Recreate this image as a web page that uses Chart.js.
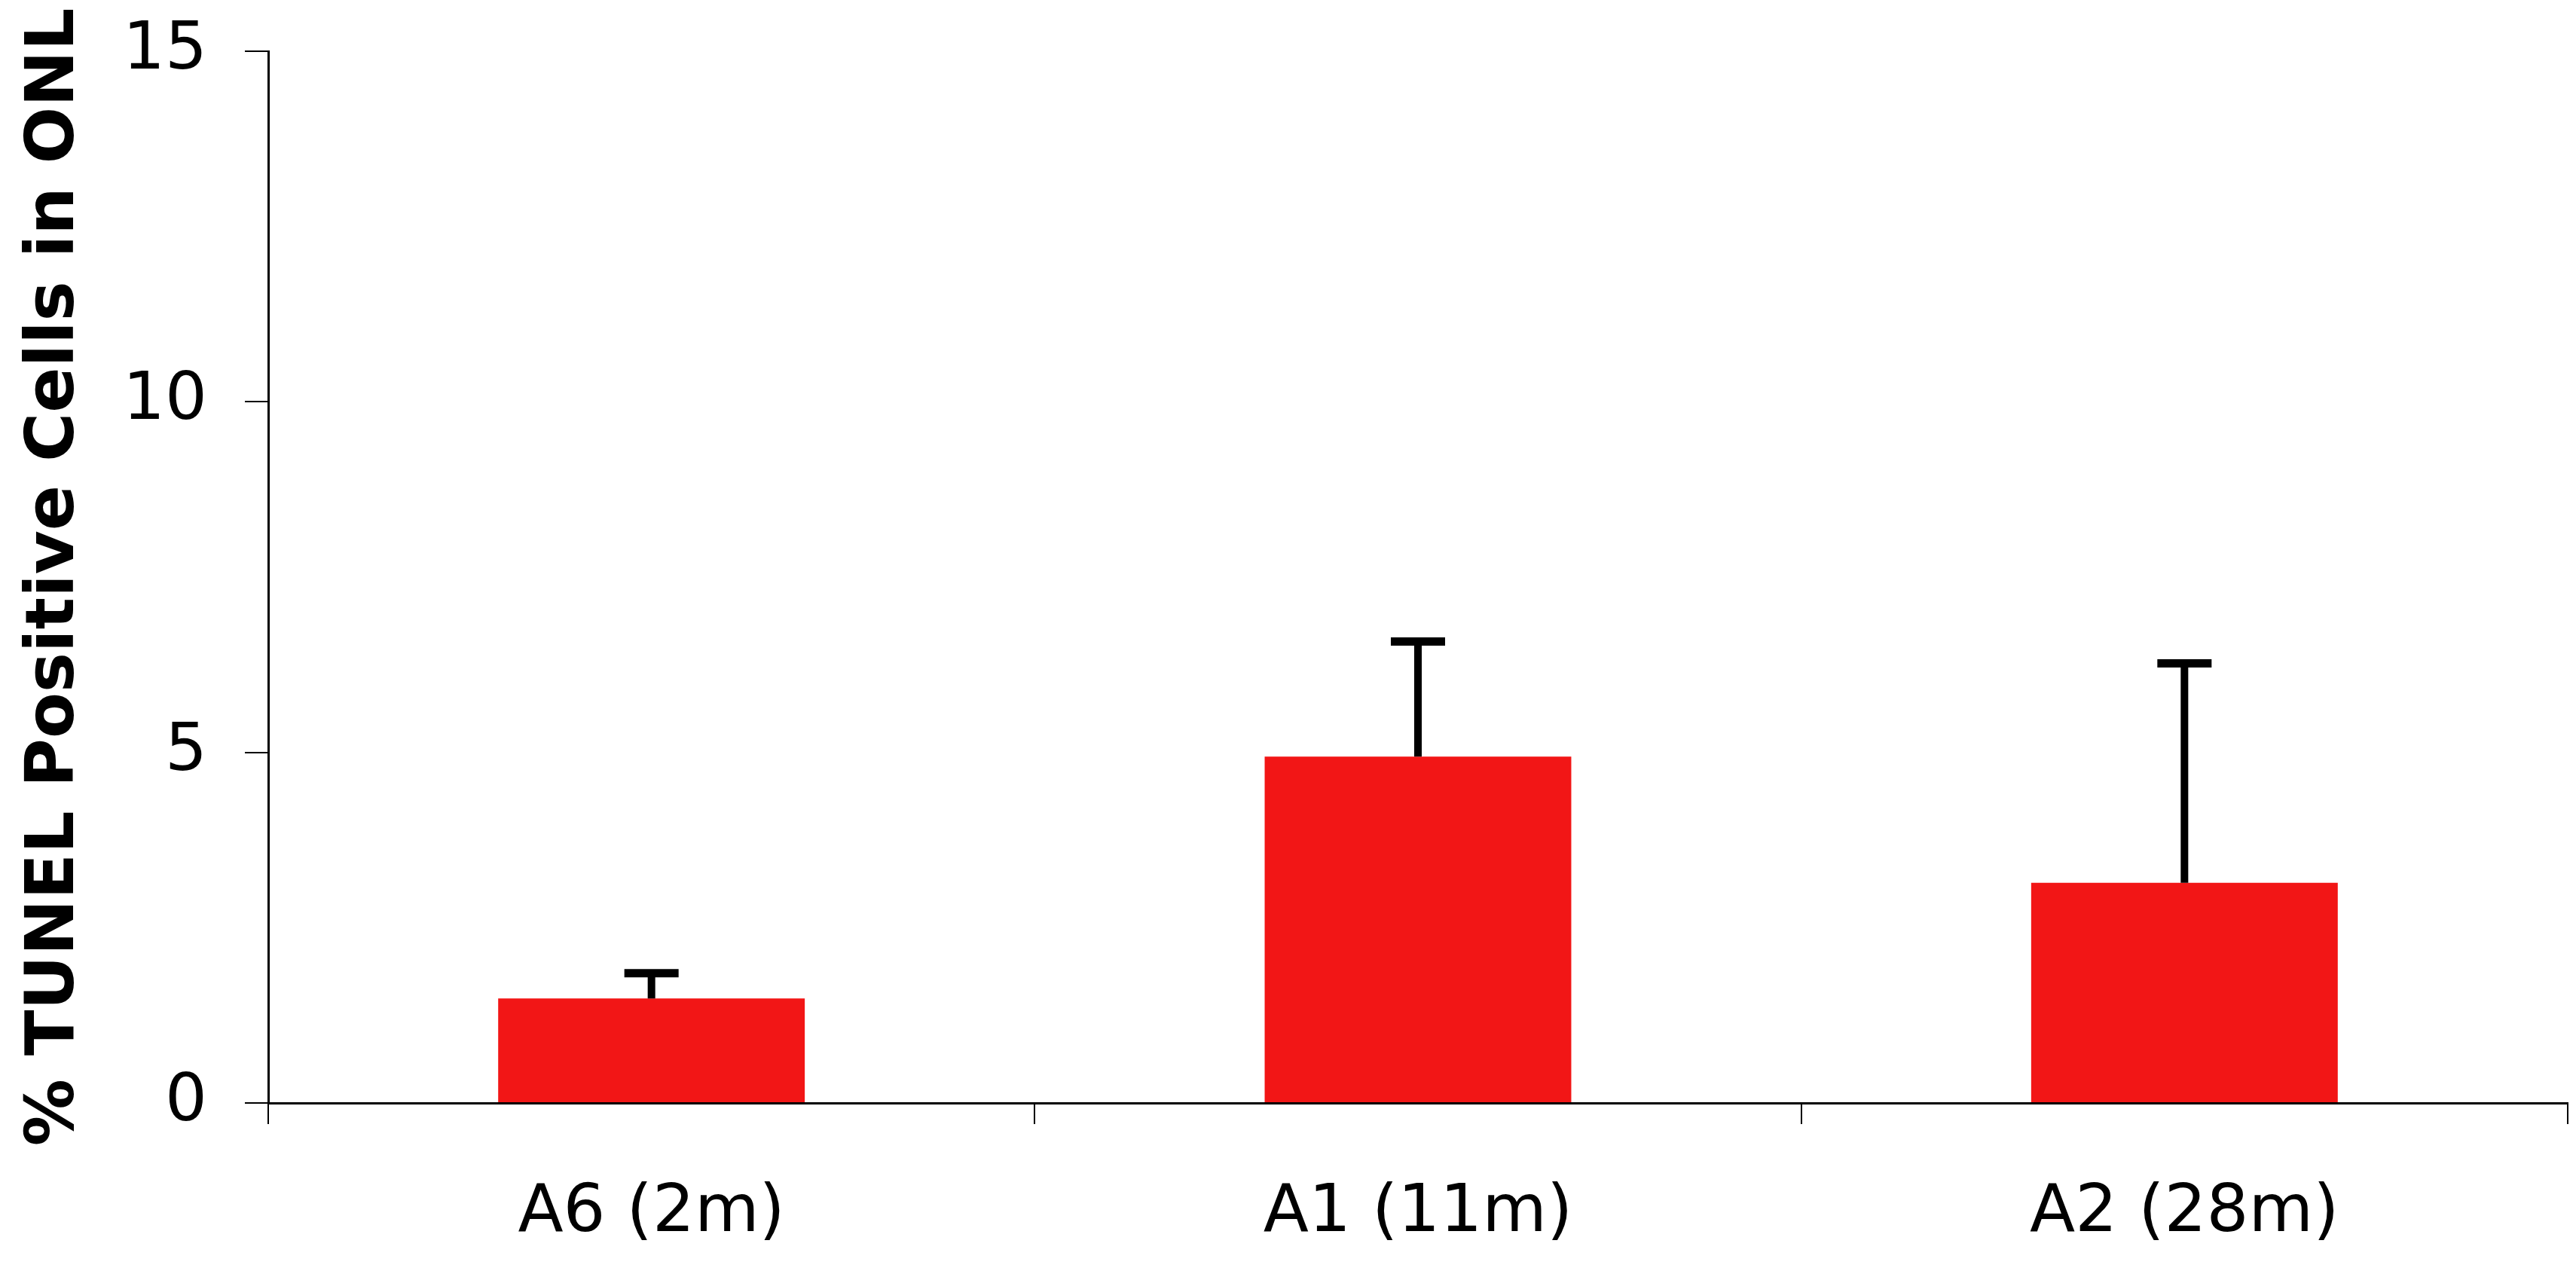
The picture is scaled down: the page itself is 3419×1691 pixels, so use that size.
<!DOCTYPE html>
<html>
<head>
<meta charset="utf-8">
<script src="https://cdn.jsdelivr.net/npm/chart.js@4.4.0/dist/chart.umd.min.js"></script>
<style>
    body { margin: 0; background: #ffffff; }
    #wrap { width: 3419px; height: 1691px; position: relative; }
</style>
</head>
<body>
<div id="wrap"><canvas id="tunelChart"></canvas></div>
<script>
// Chart data
const groups = ['A6 (2m)', 'A1 (11m)', 'A2 (28m)'];
const tunelPercent = [1.49, 4.94, 3.14];
const tunelError = [0.36, 1.64, 3.13];
const yTicks = [0, 5, 10, 15];

// Error bars (upper whisker + cap) drawn through the chart scales
const errorBarPlugin = {
    id: 'errorBars',
    afterDatasetsDraw: function(chart) {
        const ctx = chart.ctx;
        const x = chart.scales.x;
        const y = chart.scales.y;
        ctx.save();
        ctx.strokeStyle = '#000000';
        tunelPercent.forEach(function(val, i) {
            const px = x.getPixelForValue(i);
            const yBar = y.getPixelForValue(val);
            const yTop = y.getPixelForValue(val + tunelError[i]);
            ctx.lineWidth = 10;
            ctx.beginPath();
            ctx.moveTo(px, yBar);
            ctx.lineTo(px, yTop);
            ctx.stroke();
            ctx.lineWidth = 11;
            ctx.beginPath();
            ctx.moveTo(px - 36, yTop);
            ctx.lineTo(px + 36, yTop);
            ctx.stroke();
        });
        ctx.restore();
    }
};

new Chart(document.getElementById('tunelChart'), {
    type: 'bar',
    data: {
        labels: groups,
        datasets: [{
            data: tunelPercent,
            backgroundColor: '#f21616',
            borderWidth: 0,
            barPercentage: 0.4,
            categoryPercentage: 1.0
        }]
    },
    options: {
        responsive: true,
        maintainAspectRatio: false,
        animation: false,
        layout: {
            padding: { top: 68, right: 11, left: 0, bottom: 0 }
        },
        plugins: {
            legend: { display: false },
            tooltip: { enabled: false }
        },
        scales: {
            x: {
                grid: {
                    offset: true,
                    drawOnChartArea: false,
                    drawTicks: true,
                    tickLength: 28,
                    color: '#000000',
                    lineWidth: 2
                },
                border: { display: true, color: '#000000', width: 3 },
                ticks: {
                    color: '#000000',
                    padding: 66,
                    font: { family: 'DejaVu Sans', size: 88 }
                },
                afterFit: function(scale) {
                    scale.height = 227;
                }
            },
            y: {
                min: 0,
                max: 15,
                afterBuildTicks: function(scale) {
                    scale.ticks = yTicks.map(function(v) { return { value: v }; });
                },
                grid: {
                    drawOnChartArea: false,
                    drawTicks: true,
                    tickLength: 31,
                    color: '#000000',
                    lineWidth: 2
                },
                border: { display: true, color: '#000000', width: 3 },
                ticks: {
                    color: '#000000',
                    padding: 50,
                    font: { family: 'DejaVu Sans', size: 88 }
                },
                title: {
                    display: true,
                    text: '% TUNEL Positive Cells in ONL',
                    color: '#000000',
                    padding: { top: 20, bottom: 0 },
                    font: { family: 'DejaVu Sans', size: 89, weight: 'bold', lineHeight: 1.2 }
                },
                afterFit: function(scale) {
                    scale.width = 356;
                    // let layout padding alone decide the plot top
                    scale.paddingTop = 0;
                    scale.paddingBottom = 0;
                }
            }
        }
    },
    plugins: [errorBarPlugin]
});
</script>
</body>
</html>
